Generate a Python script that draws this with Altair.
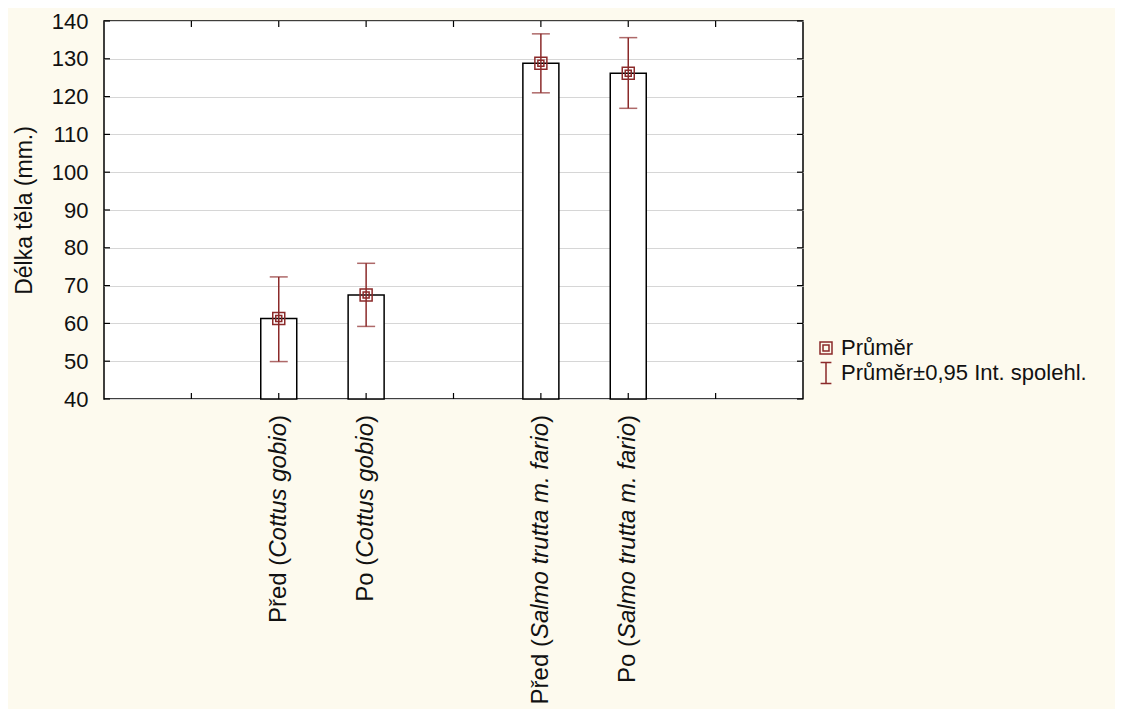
import altair as alt
import pandas as pd

# ---- data ----
categories = [" ", "Před (Cottus gobio)", "Po (Cottus gobio)", "  ",
              "Před (Salmo trutta m. fario)", "Po (Salmo trutta m. fario)", "   "]
stages = ["Před", "Po", "Před", "Po"]
species = ["Cottus gobio", "Cottus gobio", "Salmo trutta m. fario", "Salmo trutta m. fario"]
means = [61.3, 67.5, 128.8, 126.2]
ci_low = [49.9, 59.2, 121.0, 116.9]
ci_high = [72.3, 75.9, 136.6, 135.6]
y_ticks = [40, 50, 60, 70, 80, 90, 100, 110, 120, 130, 140]
legend_labels = ["Průměr", "Průměr±0,95 Int. spolehl."]
y_title = "Délka těla (mm.)"

groups = [f"{st} ({sp})" for st, sp in zip(stages, species)]

# ---- styling ----
W, H = 699, 378
FONT = "Liberation Sans"
RED = "#8B2A2A"
BG = "#FDFAEE"
TXT = "#111111"
XFS = 24  # x label font size
SQUARE = "M-1,-1H1V1H-1ZM-0.5,-0.5H0.5V0.5H-0.5Z"
IBAR = "M-0.9,-1.75H0.9M0,-1.75V1.75M-0.9,1.75H0.9"

# advance widths (em) of Liberation Sans, used to join upright and italic parts
ADV = {"P": .667, "ř": .333, "e": .556, "d": .556, " ": .278, "(": .333, ")": .333,
       "o": .556, "C": .722, "t": .278, "u": .556, "s": .5, "g": .556, "b": .556,
       "i": .222, "S": .667, "a": .556, "l": .222, "m": .833, "r": .333, ".": .278,
       "f": .278}

def text_w(s):
    return sum(ADV.get(c, .556) for c in s) * XFS

df = pd.DataFrame({"cat": groups, "mean": means, "lo": ci_low, "hi": ci_high,
                   "legend": [legend_labels[0]] * len(groups),
                   "prefix": [st + " (" for st in stages], "species": species,
                   "close": [")"] * len(groups)})
cat_df = pd.DataFrame({"cat": categories})
tick_df = pd.DataFrame({"v": y_ticks})

x_enc = alt.X("cat:N", sort=categories,
              scale=alt.Scale(domain=categories, paddingInner=0.588, paddingOuter=0.794),
              axis=alt.Axis(title=None, labels=False, ticks=False, domain=False, grid=False))
y_scale = alt.Scale(domain=[40, 140], nice=False, zero=False)
y_axis = alt.Axis(values=y_ticks, title=y_title, grid=True, gridColor="#D6D6D6",
                  gridWidth=1, ticks=False, domain=False, labelPadding=16,
                  labelFontSize=22, labelFont=FONT, labelColor=TXT,
                  titleFont=FONT, titleFontSize=23, titleFontWeight="normal",
                  titleColor=TXT, titlePadding=15)

def yq(field):
    return alt.Y(field, scale=y_scale, axis=y_axis)

base = alt.Chart(df)

bars = base.mark_bar(fill="white", stroke="black", strokeWidth=1.5).encode(
    x=x_enc, y=yq("mean:Q"), y2=alt.datum(40))

err = base.mark_rule(color=RED, strokeWidth=1.5).encode(
    x=x_enc, y=yq("lo:Q"), y2="hi:Q")
cap_lo = base.mark_tick(color=RED, thickness=1.5, size=18).encode(x=x_enc, y=yq("lo:Q"))
cap_hi = base.mark_tick(color=RED, thickness=1.5, size=18).encode(x=x_enc, y=yq("hi:Q"))

pts = base.mark_point(filled=False, color=RED, strokeWidth=1.5, size=144, opacity=1).encode(
    x=x_enc, y=yq("mean:Q"),
    shape=alt.Shape("legend:N",
                    scale=alt.Scale(domain=legend_labels, range=[SQUARE, IBAR]),
                    legend=alt.Legend(title=None, orient="none", legendX=711, legendY=316,
                                      labelFont=FONT, labelFontSize=22, labelColor=TXT,
                                      symbolSize=144, symbolStrokeColor=RED,
                                      symbolStrokeWidth=1.5, symbolFillColor="transparent",
                                      labelOffset=4, rowPadding=0, padding=0,
                                      labelLimit=400)))

# category labels below the axis: upright stage, italic species name
LAB_Y = H + 16
txt_kw = dict(angle=270, align="right", baseline="middle", font=FONT,
              fontSize=XFS, color=TXT)
lab_close = base.mark_text(**txt_kw).encode(x=x_enc, y=alt.value(LAB_Y), text="close:N")
lab_species = base.mark_text(fontStyle="italic", dx=-text_w(")"), **txt_kw).encode(
    x=x_enc, y=alt.value(LAB_Y), text="species:N")
lab_prefix = [
    base.transform_filter(alt.datum.species == sp)
    .mark_text(dx=-(text_w(")") + text_w(sp)), **txt_kw)
    .encode(x=x_enc, y=alt.value(LAB_Y), text="prefix:N")
    for sp in dict.fromkeys(species)
]

xt_bot = alt.Chart(cat_df).mark_rule(color="black", strokeWidth=1.2).encode(
    x=x_enc, y=alt.value(H), y2=alt.value(H - 6))
xt_top = alt.Chart(cat_df).mark_rule(color="black", strokeWidth=1.2).encode(
    x=x_enc, y=alt.value(0), y2=alt.value(6))
yt_left = alt.Chart(tick_df).mark_rule(color="black", strokeWidth=1.2).encode(
    y=yq("v:Q"), x=alt.value(0), x2=alt.value(6))
yt_right = alt.Chart(tick_df).mark_rule(color="black", strokeWidth=1.2).encode(
    y=yq("v:Q"), x=alt.value(W), x2=alt.value(W - 6))

chart = alt.layer(bars, err, cap_lo, cap_hi, pts, lab_close, lab_species, *lab_prefix,
                  xt_bot, xt_top, yt_left, yt_right).properties(
    width=W, height=H,
    autosize=alt.AutoSizeParams(type="none"),
    padding={"left": 96, "top": 13, "right": 312, "bottom": 310},
).configure(background=BG).configure_view(stroke="black", strokeWidth=1.5, fill="white")

chart.save("out.html", embed_options={"renderer": "svg", "actions": False})
